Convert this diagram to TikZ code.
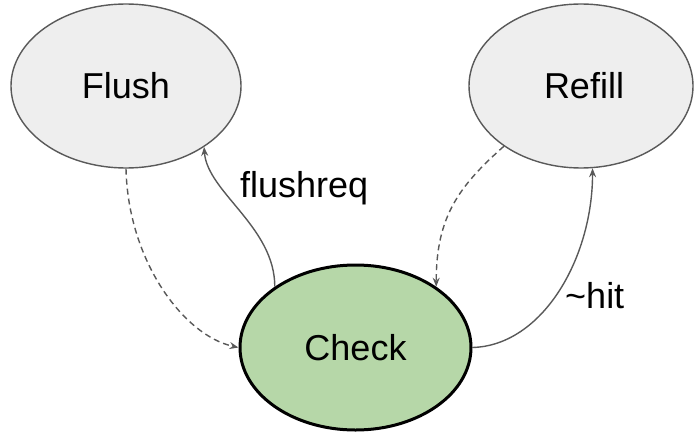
\documentclass[tikz,border=0pt]{standalone}
\usepackage{fontspec}
\setmainfont{Liberation Sans}
\usetikzlibrary{arrows.meta,shapes.geometric}

\definecolor{stategray}{HTML}{EEEEEE}
\definecolor{edgegray}{HTML}{595959}
\definecolor{checkgreen}{HTML}{B6D7A8}

\begin{document}
\begin{tikzpicture}[x=1pt,y=-1pt,
  every node/.style={font=\fontsize{36}{43}\selectfont},
  state/.style={ellipse,draw=edgegray,fill=stategray,line width=1.4pt,
    minimum width=230pt,minimum height=164pt,inner sep=0pt},
  active/.style={ellipse,draw=black,fill=checkgreen,line width=3pt,
    minimum width=231pt,minimum height=165pt,inner sep=0pt},
  trans/.style={draw=edgegray,line width=1.4pt,
    -{Stealth[length=9pt,width=7pt,inset=3pt]}},
  back/.style={trans,dash pattern=on 6pt off 4pt},
  lbl/.style={inner sep=0pt,anchor=base west}]

\useasboundingbox (0,0) rectangle (695,433);

% states
\node[state] (flush) at (126,86) {Flush};
\node[state,minimum width=224pt] (refill) at (581,86) {\hspace*{6pt}Refill};
\node[active] (check) at (355.5,347.5) {Check};

% transitions leaving Check
\draw[trans] (check.143) .. controls +(0,-60) and +(3,45) .. (flush.-38);
\draw[trans] (check.east) .. controls +(70,-2) and +(0,90) .. (refill.-82);

% returns to Check
\draw[back] (flush.south) .. controls +(2,92) and +(-55,-12) .. (check.west);
\draw[back] (refill.-142) .. controls +(-45,40) and +(0,-70) .. (check.37);

% transition labels
\node[lbl] (lflush) at (240,197) {flushreq};
\node[lbl] (lhit) at (565,308) {\textasciitilde hit};
\end{tikzpicture}
\end{document}
